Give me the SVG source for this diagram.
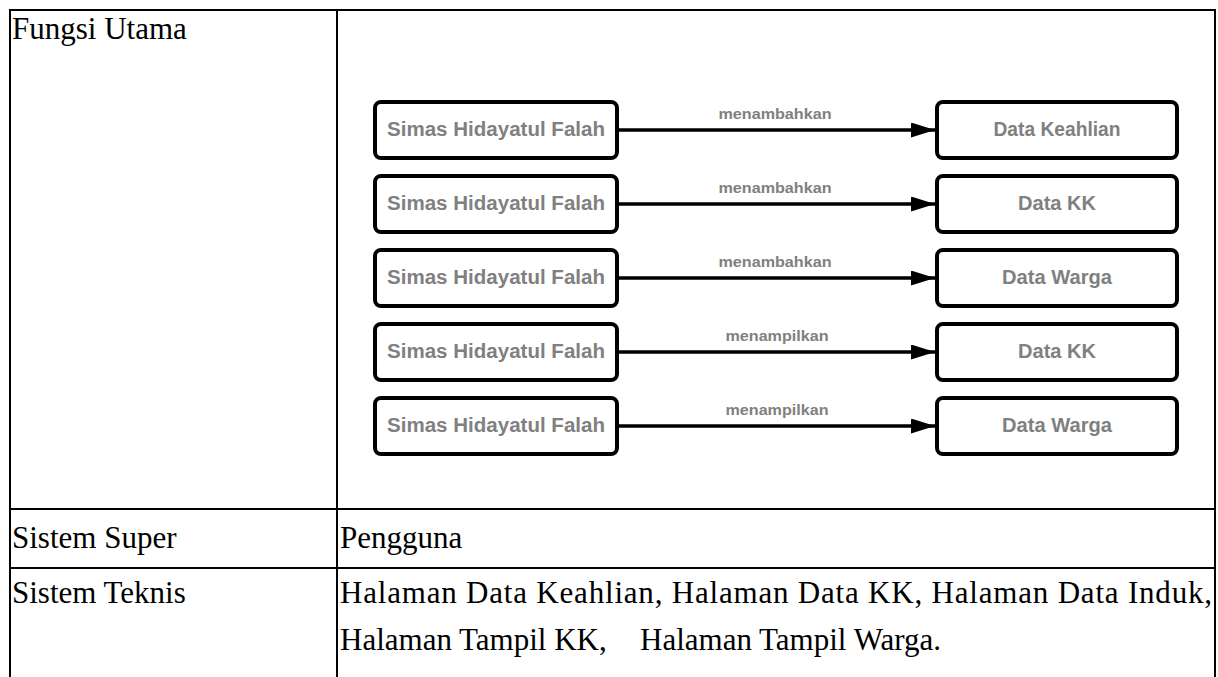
<svg xmlns="http://www.w3.org/2000/svg" width="1218" height="677" viewBox="0 0 1218 677">
<style>
.tbl{stroke:#000;stroke-width:2;fill:none}
.serif{font-family:"Liberation Serif","Times New Roman",serif;font-size:31px;fill:#000}
.box{fill:#fff;stroke:#000;stroke-width:4}
.lbl{font-family:"Liberation Sans",Arial,sans-serif;font-weight:bold;font-size:19.5px;fill:#808080;text-anchor:middle}
.elbl{font-family:"Liberation Sans",Arial,sans-serif;font-weight:bold;font-size:15px;fill:#808080;text-anchor:middle}
.edge{stroke:#000;stroke-width:3.5;fill:none}
</style>
<defs>
<marker id="arr" markerUnits="userSpaceOnUse" markerWidth="26" markerHeight="16" refX="24" refY="7.5" orient="auto">
<path d="M0,0 L24,7.5 L0,15 Z" fill="#000"/>
</marker>
</defs>
<rect width="1218" height="677" fill="#fff"/>
<g id="table">
<line class="tbl" x1="10" y1="10" x2="1215" y2="10"/>
<line class="tbl" x1="10" y1="9" x2="10" y2="677"/>
<line class="tbl" x1="337" y1="9" x2="337" y2="677"/>
<line class="tbl" x1="1215" y1="9" x2="1215" y2="677"/>
<line class="tbl" x1="10" y1="509" x2="1215" y2="509"/>
<line class="tbl" x1="10" y1="568" x2="1215" y2="568"/>
<text class="serif" x="12" y="39">Fungsi Utama</text>
<text class="serif" x="12" y="548">Sistem Super</text>
<text class="serif" x="340" y="548">Pengguna</text>
<text class="serif" x="12" y="603">Sistem Teknis</text>
<text class="serif" x="340" y="603" textLength="872" lengthAdjust="spacing">Halaman Data Keahlian, Halaman Data KK, Halaman Data Induk,</text>
<text class="serif" y="650"><tspan x="340">Halaman Tampil KK,</tspan><tspan x="640">Halaman Tampil Warga.</tspan></text>
</g>
<g id="connectors">
<line class="edge" x1="619" y1="130" x2="935" y2="130" marker-end="url(#arr)"/>
<text class="elbl" x="775" y="119" textLength="113" lengthAdjust="spacingAndGlyphs">menambahkan</text>
<line class="edge" x1="619" y1="204" x2="935" y2="204" marker-end="url(#arr)"/>
<text class="elbl" x="775" y="193" textLength="113" lengthAdjust="spacingAndGlyphs">menambahkan</text>
<line class="edge" x1="619" y1="278" x2="935" y2="278" marker-end="url(#arr)"/>
<text class="elbl" x="775" y="267" textLength="113" lengthAdjust="spacingAndGlyphs">menambahkan</text>
<line class="edge" x1="619" y1="352" x2="935" y2="352" marker-end="url(#arr)"/>
<text class="elbl" x="777" y="341" textLength="103" lengthAdjust="spacingAndGlyphs">menampilkan</text>
<line class="edge" x1="619" y1="426" x2="935" y2="426" marker-end="url(#arr)"/>
<text class="elbl" x="777" y="415" textLength="103" lengthAdjust="spacingAndGlyphs">menampilkan</text>
</g>
<g id="src1"><rect class="box" x="375" y="102" width="242" height="56" rx="6"/><text class="lbl" x="496" y="136" textLength="218" lengthAdjust="spacingAndGlyphs">Simas Hidayatul Falah</text></g>
<g id="src2"><rect class="box" x="375" y="176" width="242" height="56" rx="6"/><text class="lbl" x="496" y="210" textLength="218" lengthAdjust="spacingAndGlyphs">Simas Hidayatul Falah</text></g>
<g id="src3"><rect class="box" x="375" y="250" width="242" height="56" rx="6"/><text class="lbl" x="496" y="284" textLength="218" lengthAdjust="spacingAndGlyphs">Simas Hidayatul Falah</text></g>
<g id="src4"><rect class="box" x="375" y="324" width="242" height="56" rx="6"/><text class="lbl" x="496" y="358" textLength="218" lengthAdjust="spacingAndGlyphs">Simas Hidayatul Falah</text></g>
<g id="src5"><rect class="box" x="375" y="398" width="242" height="56" rx="6"/><text class="lbl" x="496" y="432" textLength="218" lengthAdjust="spacingAndGlyphs">Simas Hidayatul Falah</text></g>
<g id="dst1"><rect class="box" x="937" y="102" width="240" height="56" rx="6"/><text class="lbl" x="1057" y="136" textLength="127" lengthAdjust="spacingAndGlyphs">Data Keahlian</text></g>
<g id="dst2"><rect class="box" x="937" y="176" width="240" height="56" rx="6"/><text class="lbl" x="1057" y="210" textLength="78" lengthAdjust="spacingAndGlyphs">Data KK</text></g>
<g id="dst3"><rect class="box" x="937" y="250" width="240" height="56" rx="6"/><text class="lbl" x="1057" y="284" textLength="110" lengthAdjust="spacingAndGlyphs">Data Warga</text></g>
<g id="dst4"><rect class="box" x="937" y="324" width="240" height="56" rx="6"/><text class="lbl" x="1057" y="358" textLength="78" lengthAdjust="spacingAndGlyphs">Data KK</text></g>
<g id="dst5"><rect class="box" x="937" y="398" width="240" height="56" rx="6"/><text class="lbl" x="1057" y="432" textLength="110" lengthAdjust="spacingAndGlyphs">Data Warga</text></g>
</svg>
